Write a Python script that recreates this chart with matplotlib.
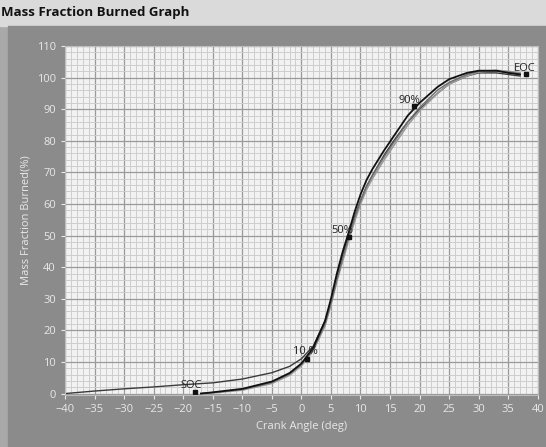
import numpy as np
import matplotlib.pyplot as plt
from matplotlib.ticker import MultipleLocator

plt.rcParams['font.family'] = ['Open Sans', 'DejaVu Sans']

# crank angle (deg) and mass fraction burned (%) for each cycle
ang_a = [-40, -35, -30, -25, -20, -15, -10, -5, -2, 0, 2, 4, 5, 6, 7, 8, 9, 10, 11, 12, 14, 16, 18, 20, 23, 25, 28, 30, 33, 35, 37]
mfb_a = [0, 0.8, 1.5, 2.1, 2.8, 3.4, 4.6, 6.6, 8.6, 11, 15, 23, 29, 37, 44, 50, 56, 61, 65.5, 69, 75.5, 81, 86, 90, 95, 98, 100.5, 101.5, 101.5, 101, 100.5]

ang_b = [-17, -15, -10, -5, -2, 0, 2, 4, 5, 6, 7, 8, 9, 10, 11, 12, 14, 16, 18, 20, 23, 25, 28, 30, 33, 35, 37]
mfb_b = [0, 0.4, 1.5, 3.8, 6.5, 9.5, 14.5, 23, 30, 38, 45, 51, 57.5, 63, 67.5, 71, 77, 82.5, 88, 92, 97, 99.5, 101.5, 102.2, 102.2, 101.5, 101]
mfb_c = [0, 0.3, 1.3, 3.5, 6.2, 9.2, 14, 22, 28.5, 36, 43, 49.5, 55.5, 61, 65.5, 69, 75, 80.5, 86, 90.5, 96, 98.5, 101, 102, 102, 101.8, 101.2]
mfb_d = [0, 0.2, 1.1, 3.2, 5.8, 8.8, 13.5, 21.5, 28, 35.5, 42, 48.5, 54.5, 60, 64.5, 68, 74, 79.5, 85, 89.5, 95, 98, 100.5, 101.8, 102.3, 102, 101.5]

# event markers
ev_names = ["SOC", "10 %", "50%", "90%", "EOC"]
ev_ang = [-18, 1, 8, 19, 38]
ev_mfb = [0.5, 11, 49.5, 91, 101]
ev_txt_ang = [-20.5, -1.5, 5, 16.5, 36]
ev_txt_mfb = [0.8, 11.5, 50, 91, 101]

fig = plt.figure(figsize=(5.46, 4.47), dpi=100, facecolor='#a9a9a9')
# title bar and dark panel
fig.add_artist(plt.Rectangle((0, 0.942), 1, 0.058, transform=fig.transFigure, color='#dadada', zorder=-10))
fig.add_artist(plt.Rectangle((0.015, 0), 0.985, 0.942, transform=fig.transFigure, color='#8b8b8b', zorder=-10))
fig.text(0.002, 0.972, "Mass Fraction Burned Graph", fontsize=9.5, fontweight='bold', va='center', ha='left', color='#111111')

ax = fig.add_axes([0.119, 0.116, 0.866, 0.781])
ax.set_facecolor('#f2f2f2')
ax.set_xlim(-40, 40)
ax.set_ylim(-0.5, 110)
ax.xaxis.set_major_locator(MultipleLocator(5))
ax.xaxis.set_minor_locator(MultipleLocator(1))
ax.yaxis.set_major_locator(MultipleLocator(10))
ax.yaxis.set_minor_locator(MultipleLocator(2))
ax.grid(which='minor', color='#cdcdcd', lw=0.7)
ax.grid(which='major', color='#9a9a9a', lw=0.9)
ax.set_axisbelow(True)
ax.tick_params(which='major', colors='#e8e8e8', labelsize=8, length=3, direction='out')
ax.tick_params(which='minor', length=0)
for s in ax.spines.values():
    s.set_color('#bdbdbd')

ax.plot(ang_a, mfb_a, color='#3a3a3a', lw=1.0)
ax.plot(ang_b, mfb_d, color='#9a9a9a', lw=1.2)
ax.plot(ang_b, mfb_c, color='#6e6e6e', lw=1.0)
ax.plot(ang_b, mfb_b, color='#111111', lw=1.3)

ax.plot(ev_ang, ev_mfb, 's', color='#111111', ms=3.5, ls='none')
for name, tx, ty in zip(ev_names, ev_txt_ang, ev_txt_mfb):
    ax.text(tx, ty, name, fontsize=8, color='#222222', ha='left', va='bottom')

ax.set_xlabel("Crank Angle (deg)", color='#e8e8e8', fontsize=8)
ax.set_ylabel("Mass Fraction Burned(%)", color='#e8e8e8', fontsize=8)

fig.savefig("out.png", dpi=100, facecolor=fig.get_facecolor())
